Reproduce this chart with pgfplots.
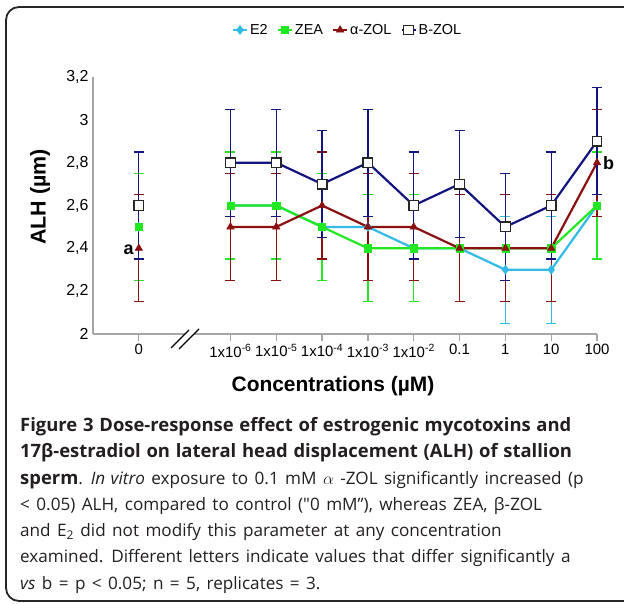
\documentclass[border=0pt]{standalone}
\usepackage{pgfplots}
\pgfplotsset{compat=1.18}
\usepackage{pgfplotstable}
\usepackage{fontspec}
\setmainfont{Liberation Sans}
\newfontfamily\capfont[WordSpace=1.7]{Open Sans}
\newfontfamily\capbold[WordSpace=1.2]{Open Sans}

\definecolor{cE}{RGB}{51,187,232}
\definecolor{cZ}{RGB}{34,232,34}
\definecolor{cA}{RGB}{139,16,16}
\definecolor{cB}{RGB}{20,20,128}
\definecolor{axgray}{RGB}{165,165,165}
\definecolor{captxt}{RGB}{35,31,32}

% x: 0 = control, 2..10 = 1e-6 ... 100 uM; the nan row makes the break
\pgfplotstableread{
x  e2  e2e  zea zeae azol azole bzol bzole
0  2.5 0.25 2.5 0.25 2.4 0.25  2.6  0.25
1  nan nan  nan nan  nan nan   nan  nan
2  2.6 0.25 2.6 0.25 2.5 0.25  2.8  0.25
3  2.6 0.25 2.6 0.25 2.5 0.25  2.8  0.25
4  2.5 0.25 2.5 0.25 2.6 0.25  2.7  0.25
5  2.5 0.25 2.4 0.25 2.5 0.25  2.8  0.25
6  2.4 0.25 2.4 0.25 2.5 0.25  2.6  0.25
7  2.4 0.25 2.4 0.25 2.4 0.25  2.7  0.25
8  2.3 0.25 2.4 0.25 2.4 0.25  2.5  0.25
9  2.3 0.25 2.4 0.25 2.4 0.25  2.6  0.25
10 2.6 0.25 2.6 0.25 2.8 0.25  2.9  0.25
}\data

\begin{document}
\begin{tikzpicture}[x=1bp,y=1bp]
\path[use as bounding box] (0,0) rectangle (624,604);
\draw[line width=1.8bp, rounded corners=13bp, black!85] (6,3) rectangle (680,597);

\begin{axis}[
  at={(93bp,270bp)}, anchor=south west,
  scale only axis, width=504bp, height=257bp,
  xmin=-1, xmax=10, ymin=2, ymax=3.2,
  clip=false,
  unbounded coords=jump,
  axis x line*=bottom, axis y line*=left,
  axis line style={axgray, line width=1.3bp},
  xtick={0,2,3,4,5,6,7,8,9,10},
  xticklabels={0,1x10\textsuperscript{-6},1x10\textsuperscript{-5},1x10\textsuperscript{-4},1x10\textsuperscript{-3},1x10\textsuperscript{-2},0.1,1,10,100},
  ytick={2,2.2,2.4,2.6,2.8,3,3.2},
  tick align=outside, major tick length=7bp,
  xtick style={axgray, line width=1.3bp},
  ytick style={draw=none},
  /pgf/number format/.cd, fixed, precision=1, use comma, assume math mode=true,
  /pgfplots/.cd,
  yticklabel style={font=\fontsize{16}{16}\selectfont, xshift=6bp},
  xticklabel style={font=\fontsize{15}{15}\selectfont},
  legend columns=4,
  legend style={at={(0.505,1.183)}, anchor=center, draw=none, fill=none,
    font=\fontsize{14.5}{14.5}\selectfont,
    /tikz/every even column/.append style={column sep=7bp}},
  legend image code/.code={\draw[mark repeat=2,mark phase=2,#1] plot coordinates {(0bp,0bp) (7bp,0bp) (14bp,0bp)};},
  error bars/y dir=both, error bars/y explicit,
]
\addplot[cE, line width=2.2bp, mark=diamond*, mark size=4.5bp, mark options={solid, fill=cE, draw=cE, line width=0.5bp},
  error bars/error bar style={cE, line width=1.2bp},
  error bars/error mark options={cE, rotate=90, mark size=5bp, line width=1.2bp}]
  table[x=x, y=e2, y error=e2e] {\data};
\addlegendentry{E2}
\addplot[cZ, line width=2.2bp, mark=square*, mark size=3.6bp, mark options={solid, fill=cZ, draw=cZ, line width=0.5bp},
  error bars/error bar style={cZ, line width=1.2bp},
  error bars/error mark options={cZ, rotate=90, mark size=5bp, line width=1.2bp}]
  table[x=x, y=zea, y error=zeae] {\data};
\addlegendentry{ZEA}
\addplot[cA, line width=2.2bp, mark=triangle*, mark size=4.3bp, mark options={solid, fill=cA, draw=cA, line width=0.5bp},
  error bars/error bar style={cA, line width=1.2bp},
  error bars/error mark options={cA, rotate=90, mark size=5bp, line width=1.2bp}]
  table[x=x, y=azol, y error=azole] {\data};
\addlegendentry{α-ZOL}
\addplot[cB, line width=2.2bp, mark=square*, mark size=4.8bp, mark options={solid, fill=white, draw=black!85, line width=1.3bp},
  error bars/error bar style={cB, line width=1.2bp},
  error bars/error mark options={cB, rotate=90, mark size=5bp, line width=1.2bp}]
  table[x=x, y=bzol, y error=bzole] {\data};
\addlegendentry{B-ZOL}

\node[anchor=base east, font=\fontsize{18}{18}\selectfont\bfseries, inner sep=0pt] at (axis cs:-0.11,2.373) {a};
\node[anchor=base west, font=\fontsize{18}{18}\selectfont\bfseries, inner sep=0pt] at (axis cs:10.13,2.766) {b};
\end{axis}

% axis break
\fill[white] (185,267) rectangle (194,273);
\draw[black, line width=1.4bp] (171,256) -- (189,274);
\draw[black, line width=1.4bp] (179,255) -- (199,275);

% axis titles
\node[anchor=base, inner sep=0pt, font=\fontsize{21}{21}\selectfont\bfseries] at (333,212) {Concentrations (µM)};
\node[rotate=90, anchor=center, inner sep=0pt, font=\fontsize{21.5}{21.5}\selectfont\bfseries] at (40,407) {ALH (µm)};

% caption
\begin{scope}[every node/.style={anchor=base west, inner sep=0pt, text=captxt, font=\capfont\fontsize{17.2}{17.2}\selectfont}]
\node[font=\capbold\fontsize{18.5}{18.5}\selectfont\bfseries] at (20,172) {Figure 3 Dose-response effect of estrogenic mycotoxins and};
\node[font=\capbold\fontsize{18.5}{18.5}\selectfont\bfseries] at (20,146) {17β-estradiol on lateral head displacement (ALH) of stallion};
\node at (20,119) {{\capbold\fontsize{18.5}{18.5}\selectfont\bfseries sperm}. {\itshape In vitro} exposure to 0.1 mM $\alpha$ -ZOL significantly increased (p};
\node at (20,93) {< 0.05) ALH, compared to control ("0 mM”), whereas ZEA, β-ZOL};
\node at (20,67) {and E\textsubscript{2} did not modify this parameter at any concentration};
\node at (20,41) {examined. Different letters indicate values that differ significantly a};
\node at (20,14) {{\itshape vs} b = p < 0.05; n = 5, replicates = 3.};
\end{scope}
\end{tikzpicture}
\end{document}
